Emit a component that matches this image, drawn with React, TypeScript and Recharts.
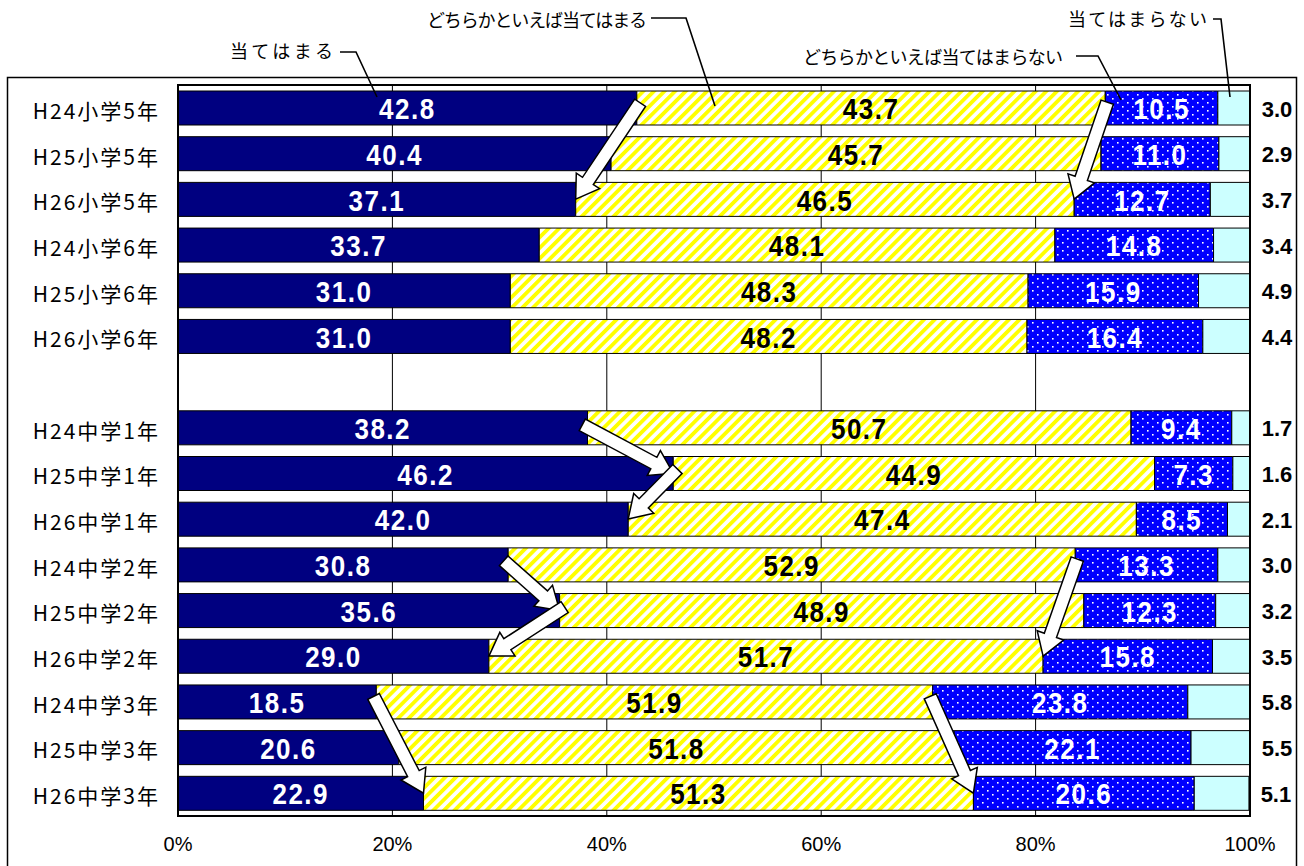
import React from 'react';
import { BarChart, Bar, XAxis, YAxis, CartesianGrid, LabelList, ReferenceLine } from 'recharts';

const categories = [
  'H24小学5年', 'H25小学5年', 'H26小学5年', 'H24小学6年', 'H25小学6年', 'H26小学6年',
  '',
  'H24中学1年', 'H25中学1年', 'H26中学1年', 'H24中学2年', 'H25中学2年', 'H26中学2年',
  'H24中学3年', 'H25中学3年', 'H26中学3年',
];
const seriesNames = ['当てはまる', 'どちらかといえば当てはまる', 'どちらかといえば当てはまらない', '当てはまらない'];
const applies = [42.8, 40.4, 37.1, 33.7, 31.0, 31.0, null, 38.2, 46.2, 42.0, 30.8, 35.6, 29.0, 18.5, 20.6, 22.9];
const ratherApplies = [43.7, 45.7, 46.5, 48.1, 48.3, 48.2, null, 50.7, 44.9, 47.4, 52.9, 48.9, 51.7, 51.9, 51.8, 51.3];
const ratherNot = [10.5, 11.0, 12.7, 14.8, 15.9, 16.4, null, 9.4, 7.3, 8.5, 13.3, 12.3, 15.8, 23.8, 22.1, 20.6];
const notApply = [3.0, 2.9, 3.7, 3.4, 4.9, 4.4, null, 1.7, 1.6, 2.1, 3.0, 3.2, 3.5, 5.8, 5.5, 5.1];
const xTicks = [0, 20, 40, 60, 80, 100];

// arrows: from row -> to row, on boundary 1 (after 当てはまる) or 2 (after どちらかといえば当てはまる)
const arrowFrom = ['H24小学5年', 'H24小学5年', 'H24中学1年', 'H25中学1年', 'H24中学2年', 'H25中学2年', 'H24中学2年', 'H24中学3年', 'H24中学3年'];
const arrowTo = ['H26小学5年', 'H26小学5年', 'H25中学1年', 'H26中学1年', 'H25中学2年', 'H26中学2年', 'H26中学2年', 'H26中学3年', 'H26中学3年'];
const arrowEdge = [1, 2, 1, 1, 1, 1, 2, 1, 2];

const data = categories.map((name, i) => ({
  name,
  s1: applies[i],
  s2: ratherApplies[i],
  s3: ratherNot[i],
  s4: notApply[i],
}));

const edgeValue = (cat: string, edge: number) => {
  const i = categories.indexOf(cat);
  const a = applies[i] as number;
  return edge === 1 ? a : a + (ratherApplies[i] as number);
};

const NUM_FONT = '"Liberation Sans", Arial, sans-serif';
const JP_FONT = '"Noto Sans CJK JP", "Noto Sans", sans-serif';

const makeInnerLabel = (color: string) => (props: any) => {
  const { x, y, width, height, value } = props;
  if (value === null || value === undefined) return null;
  const cx = x + width / 2;
  const cy = y + height / 2 + 1;
  return (
    <g transform={`translate(${cx},${cy}) scale(1,1.15)`}>
      <text
        x={0}
        y={0}
        textAnchor="middle"
        dominantBaseline="central"
        fill={color}
        fontFamily={NUM_FONT}
        fontWeight="bold"
        fontSize={26}
        letterSpacing={1.5}
      >
        {Number(value).toFixed(1)}
      </text>
    </g>
  );
};

const RightLabel = (props: any) => {
  const { x, y, width, height, value } = props;
  if (value === null || value === undefined) return null;
  return (
    <text
      x={x + width + 27}
      y={y + height / 2 + 1}
      textAnchor="middle"
      dominantBaseline="central"
      fill="#000"
      fontFamily={NUM_FONT}
      fontWeight="bold"
      fontSize={22}
    >
      {Number(value).toFixed(1)}
    </text>
  );
};

const YTick = (props: any) => {
  const { x, y, payload } = props;
  return (
    <text
      x={x - 18}
      y={y + 2}
      textAnchor="end"
      dominantBaseline="central"
      fill="#000"
      fontFamily={JP_FONT}
      fontSize={21}
      letterSpacing={2}
    >
      {payload.value}
    </text>
  );
};

const XTick = (props: any) => {
  const { x, y, payload } = props;
  return (
    <text x={x} y={y + 35} textAnchor="middle" fill="#000" fontFamily={NUM_FONT} fontSize={20}>
      {`${payload.value}%`}
    </text>
  );
};

const ArrowShape = (props: any) => {
  const { x1, y1, x2, y2 } = props;
  if ([x1, y1, x2, y2].some((v) => typeof v !== 'number' || isNaN(v))) return null;
  const dx = x2 - x1;
  const dy = y2 - y1;
  const len = Math.hypot(dx, dy);
  const ux = dx / len;
  const uy = dy / len;
  const px = -uy;
  const py = ux;
  const sw = 6.5;
  const hw = 14;
  const hl = 22;
  const nx = x2 - ux * hl;
  const ny = y2 - uy * hl;
  const tx = x1 - ux * 6;
  const ty = y1 - uy * 6;
  const pts = [
    [tx + px * sw, ty + py * sw],
    [nx + px * sw, ny + py * sw],
    [nx + px * hw, ny + py * hw],
    [x2, y2],
    [nx - px * hw, ny - py * hw],
    [nx - px * sw, ny - py * sw],
    [tx - px * sw, ty - py * sw],
  ];
  return (
    <polygon
      points={pts.map((p) => `${p[0].toFixed(1)},${p[1].toFixed(1)}`).join(' ')}
      fill="#fff"
      stroke="#000"
      strokeWidth={1.5}
    />
  );
};

const W = 1304;
const H = 866;
const PLOT_L = 178;
const PLOT_R = 1250;
const PLOT_T = 85;
const PLOT_B = 816;

export default function App() {
  return (
    <div style={{ position: 'relative', width: W, height: H, background: '#fff' }}>
      <style>{`html,body{margin:0;padding:0;overflow:hidden;background:#fff}`}</style>
      <BarChart
        width={W}
        height={H}
        data={data}
        layout="vertical"
        margin={{ top: PLOT_T, right: W - PLOT_R, bottom: 0, left: 0 }}
        barSize={34}
      >
        <defs>
          <pattern id="stripeY" patternUnits="userSpaceOnUse" width="7.5" height="7.5" patternTransform="rotate(45)">
            <rect x="0" y="0" width="7.5" height="7.5" fill="#fff" />
            <rect x="0" y="0" width="3.8" height="7.5" fill="#FFFF00" />
          </pattern>
          <pattern id="dotsB" patternUnits="userSpaceOnUse" width="10" height="8">
            <rect x="0" y="0" width="10" height="8" fill="#0000FF" />
            <rect x="2" y="2" width="1.6" height="1.6" fill="#fff" />
            <rect x="7" y="6" width="1.6" height="1.6" fill="#fff" />
          </pattern>
        </defs>
        <CartesianGrid horizontal={false} vertical={true} stroke="#000" strokeWidth={1} />
        <XAxis
          type="number"
          domain={[0, 100]}
          ticks={xTicks}
          allowDataOverflow
          axisLine={false}
          tickLine={false}
          tickSize={0}
          tickMargin={0}
          height={H - PLOT_B}
          tick={<XTick />}
          interval={0}
        />
        <YAxis
          type="category"
          dataKey="name"
          width={PLOT_L}
          axisLine={false}
          tickLine={false}
          tickSize={0}
          tickMargin={0}
          tick={<YTick />}
          interval={0}
        />
        <Bar dataKey="s1" name={seriesNames[0]} stackId="a" fill="#000080" stroke="#000" strokeWidth={1} isAnimationActive={false}>
          <LabelList dataKey="s1" content={makeInnerLabel('#fff')} />
        </Bar>
        <Bar dataKey="s2" name={seriesNames[1]} stackId="a" fill="url(#stripeY)" stroke="#000" strokeWidth={1} isAnimationActive={false}>
          <LabelList dataKey="s2" content={makeInnerLabel('#000')} />
        </Bar>
        <Bar dataKey="s3" name={seriesNames[2]} stackId="a" fill="url(#dotsB)" stroke="#000" strokeWidth={1} isAnimationActive={false}>
          <LabelList dataKey="s3" content={makeInnerLabel('#fff')} />
        </Bar>
        <Bar dataKey="s4" name={seriesNames[3]} stackId="a" fill="#CCFFFF" stroke="#000" strokeWidth={1} isAnimationActive={false}>
          <LabelList dataKey="s4" content={<RightLabel />} />
        </Bar>
        {arrowFrom.map((from, k) => (
          <ReferenceLine
            key={`arr${k}`}
            segment={[
              { x: edgeValue(from, arrowEdge[k]), y: from },
              { x: edgeValue(arrowTo[k], arrowEdge[k]), y: arrowTo[k] },
            ]}
            position="middle"
            ifOverflow="visible"
            shape={ArrowShape}
          />
        ))}
      </BarChart>
      <svg
        width={W}
        height={H}
        style={{ position: 'absolute', left: 0, top: 0, pointerEvents: 'none' }}
      >
        <rect x={7.5} y={77.5} width={1289} height={900} fill="none" stroke="#000" strokeWidth={1.5} />
        <rect x={PLOT_L} y={PLOT_T} width={PLOT_R - PLOT_L} height={PLOT_B - PLOT_T} fill="none" stroke="#000" strokeWidth={2} />
        <g fontFamily={JP_FONT} fontSize={18} fill="#000">
          <text x={230} y={50} dominantBaseline="central" textLength={103} lengthAdjust="spacing">{seriesNames[0]}</text>
          <text x={427} y={19} dominantBaseline="central" textLength={220} lengthAdjust="spacing">{seriesNames[1]}</text>
          <text x={803} y={56} dominantBaseline="central" textLength={260} lengthAdjust="spacing">{seriesNames[2]}</text>
          <text x={1068} y={18} dominantBaseline="central" textLength={139} lengthAdjust="spacing">{seriesNames[3]}</text>
        </g>
        <g fill="none" stroke="#000" strokeWidth={1.6}>
          <polyline points="340,52 356,52 377,97" />
          <polyline points="651,18 686,18 715,106" />
          <polyline points="1076,56 1098,56 1121,100" />
          <polyline points="1213,19 1221,19 1230,97" />
        </g>
      </svg>
    </div>
  );
}
